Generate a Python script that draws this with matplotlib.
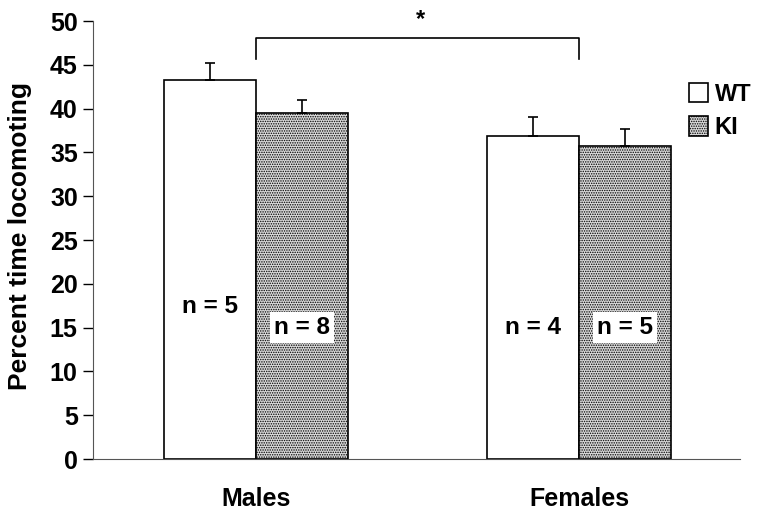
import matplotlib
matplotlib.use('Agg')
import matplotlib.pyplot as plt
import numpy as np

plt.rcParams['font.family'] = ['Liberation Sans', 'DejaVu Sans']
plt.rcParams['font.weight'] = 'bold'
plt.rcParams['hatch.linewidth'] = 0.7

groups = ['Males', 'Females']
wt_mean = [43.3, 36.9]
wt_err = [1.9, 2.1]
ki_mean = [39.5, 35.7]
ki_err = [1.5, 2.0]
wt_n = ['n = 5', 'n = 4']
ki_n = ['n = 8', 'n = 5']

fig = plt.figure(figsize=(7.79, 5.15), dpi=100)
ax = fig.add_axes([0.1194, 0.1087, 0.8306, 0.8505])

x = np.arange(len(groups))
w = 0.285

ax.bar(x - w / 2, wt_mean, w, color='white', edgecolor='black', linewidth=1.2,
       yerr=[[0, 0], wt_err], error_kw=dict(ecolor='black', elinewidth=1.2, capsize=3.5, capthick=1.2),
       label='WT', zorder=2)
ax.bar(x + w / 2, ki_mean, w, color='#d9d9d9', edgecolor='black', linewidth=1.2, hatch='.......',
       yerr=[[0, 0], ki_err], error_kw=dict(ecolor='black', elinewidth=1.2, capsize=3.5, capthick=1.2),
       label='KI', zorder=2)

# n labels
ax.text(x[0] - w / 2, 17.4, wt_n[0], ha='center', va='center', fontsize=17.5, fontweight='bold', zorder=3)
ax.text(x[1] - w / 2, 15.0, wt_n[1], ha='center', va='center', fontsize=17.5, fontweight='bold', zorder=3)
for i in range(len(groups)):
    ax.text(x[i] + w / 2, 15.0, ki_n[i], ha='center', va='center', fontsize=17.5, fontweight='bold', zorder=3,
            bbox=dict(facecolor='white', edgecolor='none', pad=3))

# significance bracket
ax.plot([x[0], x[0], x[1], x[1]], [45.7, 48.1, 48.1, 45.7], color='black', lw=1.2, clip_on=False)
ax.text((x[0] + x[1]) / 2 + 0.01, 48.9, '*', ha='center', va='bottom', fontsize=17, fontweight='bold', clip_on=False)

ax.set_xlim(-0.505, 1.498)
ax.set_ylim(0, 50)
ax.set_yticks(np.arange(0, 51, 5))
ax.set_xticks(x)
ax.set_xticklabels(groups)
ax.tick_params(axis='y', direction='out', length=7, width=1, labelsize=18, pad=4)
ax.tick_params(axis='x', length=0, labelsize=18, pad=20)
for lab in ax.get_yticklabels() + ax.get_xticklabels():
    lab.set_fontweight('bold')
ax.set_ylabel('Percent time locomoting', fontsize=19, fontweight='bold')
ax.yaxis.set_label_coords(-0.095, 0.51)

ax.spines['top'].set_visible(False)
ax.spines['right'].set_visible(False)
ax.spines['left'].set_color('#555555')
ax.spines['bottom'].set_color('#555555')

ax.legend(loc='upper left', bbox_to_anchor=(0.872, 0.858), bbox_transform=fig.transFigure,
          frameon=False, handlelength=0.8, handleheight=0.9, handletextpad=0.3,
          labelspacing=0.45, borderaxespad=0, prop=dict(weight='bold', size=17))

fig.savefig('out.png', dpi=100)
